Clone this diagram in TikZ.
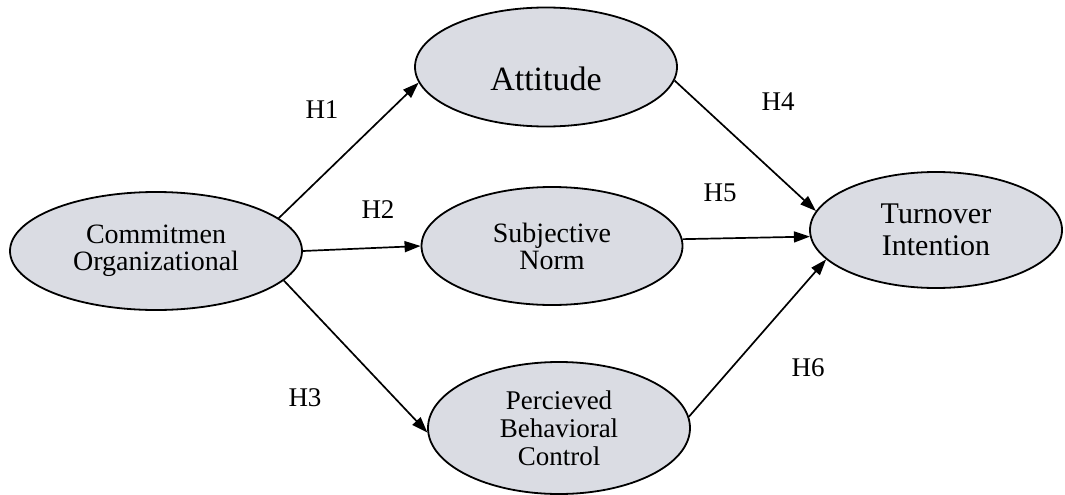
\documentclass[tikz,border=0pt]{standalone}
\usepackage{fontspec}
\setmainfont{Liberation Serif}
\usepackage{tikz}
\usetikzlibrary{arrows.meta}
\usetikzlibrary{shapes}
\definecolor{constructgray}{RGB}{218,220,227}
\newcommand{\sizept}[2]{\fontsize{#1}{#2}\selectfont}
\tikzset{
construct/.style={
  ellipse,
  draw=black,
  line width=1.8pt,
  fill=constructgray,
  inner sep=0pt,
  align=center
  }
}
\tikzset{
hyp/.style={
  font=\sizept{27}{28}
  }
}
\tikzstyle{hypedge} = [draw,line width=1.7pt,-{Triangle[length=16pt,width=11pt]}]
\tikzset{%
    boundingBox/.style={use as bounding box},
    }

\begin{document}
\begin{tikzpicture}[x=1pt, y=-1pt]
        \path[boundingBox] (0,0) rectangle (1065,495);
		%vertices
		\node (cmt) at (156, 251) [construct, minimum width=292pt, minimum height=118pt, font=\sizept{28}{27}] {Commitmen\\Organizational};

		\node (att) at (546, 67) [construct, minimum width=262pt, minimum height=119pt, font=\sizept{34}{34}, text height=46pt, text depth=0pt] {Attitude};
		\node (sub) at (552, 246) [construct, minimum width=261pt, minimum height=118pt, font=\sizept{28}{27}] {Subjective\\Norm};
		\node (per) at (559, 428) [construct, minimum width=262pt, minimum height=132pt, font=\sizept{27}{28}] {Percieved\\Behavioral\\Control};

		\node (tur) at (936, 230) [construct, minimum width=252pt, minimum height=116pt, font=\sizept{30}{32}] {Turnover\\Intention};

		%labels
		\node (h1) at (322, 110) [hyp] {H1};
		\node (h2) at (378, 210) [hyp] {H2};
		\node (h3) at (305, 398) [hyp] {H3};
		\node (h4) at (778, 102) [hyp] {H4};
		\node (h5) at (720, 193) [hyp] {H5};
		\node (h6) at (808, 368) [hyp] {H6};

		%edges
		\draw (cmt.15) edge[hypedge] (att.187);
		\draw (cmt.east) edge[hypedge] (sub.west);
		\draw (cmt.-13) edge[hypedge] (per.182);

		\draw (att.-6) edge[hypedge] (tur.171);
		\draw (sub.3) edge[hypedge] (tur.183);
		\draw (per.5) edge[hypedge] (tur.195);
\end{tikzpicture}
\end{document}
